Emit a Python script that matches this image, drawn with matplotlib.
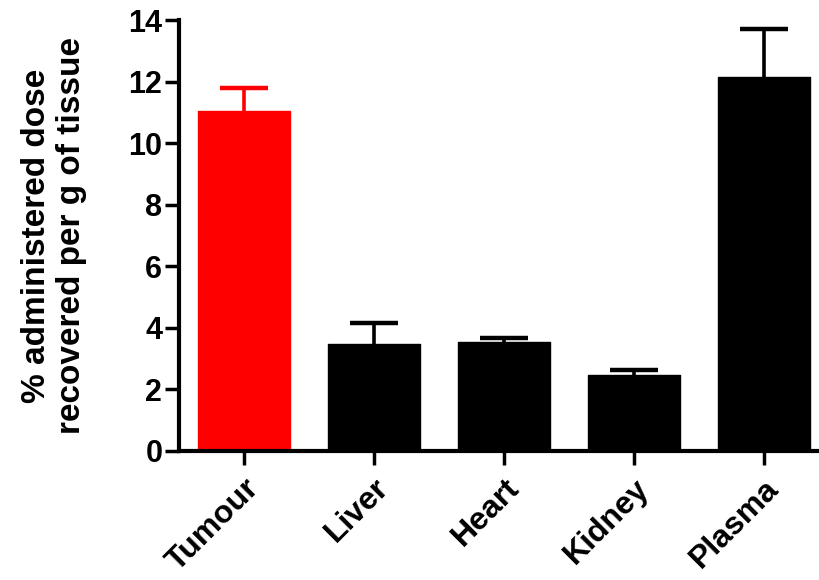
import matplotlib
matplotlib.use("Agg")
import matplotlib.pyplot as plt
import matplotlib.transforms as mtransforms

categories = ["Tumour", "Liver", "Heart", "Kidney", "Plasma"]
means = [11.04, 3.46, 3.54, 2.46, 12.15]
errors = [0.76, 0.70, 0.13, 0.17, 1.55]
colors = ["#ff0000", "#000000", "#000000", "#000000", "#000000"]
yticks = [0, 2, 4, 6, 8, 10, 12, 14]

plt.rcParams['font.family'] = ['Liberation Sans', 'DejaVu Sans']
plt.rcParams['font.weight'] = 'bold'

fig = plt.figure(figsize=(8.2, 5.8), dpi=100)
ax = fig.add_axes([179/820, 1-451/580, 1-179/820, (451-20)/580])

x = list(range(len(categories)))
ax.bar(x, means, width=0.71, color=colors, edgecolor=colors, linewidth=1.0,
       joinstyle='round', zorder=2)
for xi, m, e, c in zip(x, means, errors, colors):
    _, caps, _ = ax.errorbar([xi], [m], yerr=[[0], [e]], fmt='none', ecolor=c,
                             elinewidth=2.6, capsize=17, capthick=3.2, zorder=1)
    if len(caps) == 2:
        caps[0].set_visible(False)

ax.set_xlim(-0.5, 4.43)
ax.set_ylim(0, 14)
ax.set_yticks(yticks)
ax.set_xticks(x)
ax.set_xticklabels(categories, rotation=45, ha='right', va='top',
                   rotation_mode='anchor', fontsize=23, fontweight='bold')
ax.set_yticklabels([str(t) for t in yticks], fontsize=22, fontweight='bold')
offset = mtransforms.ScaledTranslation(-6/100, 0, fig.dpi_scale_trans)
for lbl in ax.get_xticklabels():
    lbl.set_transform(lbl.get_transform() + offset)

for s in ['top', 'right']:
    ax.spines[s].set_visible(False)
for s in ['left', 'bottom']:
    ax.spines[s].set_linewidth(3)
    ax.spines[s].set_zorder(3)
ax.tick_params(axis='both', direction='out', length=10, width=2.5)
ax.tick_params(axis='y', pad=2)
ax.tick_params(axis='x', pad=6)

ax.set_ylabel("% administered dose\nrecovered per g of tissue", fontsize=24,
              fontweight='bold', linespacing=1.2)
ax.yaxis.set_label_coords(-0.143, 0.5)

fig.savefig("out.png", dpi=100)
